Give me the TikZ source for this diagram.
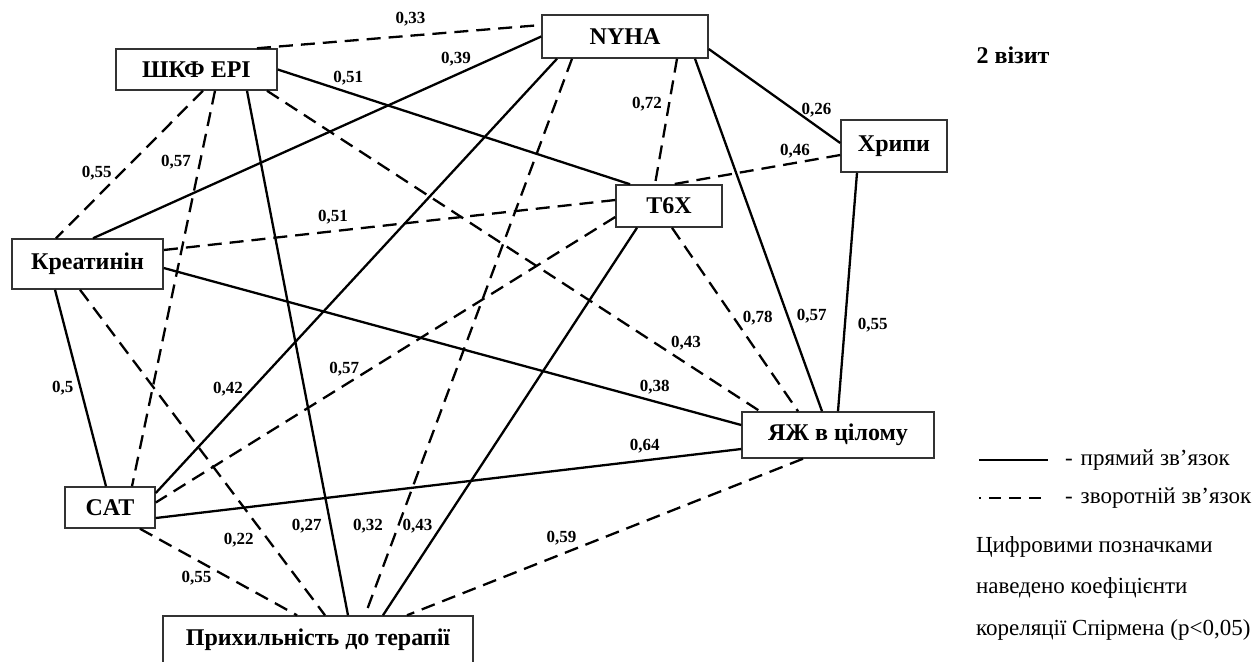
\documentclass[tikz,border=0pt]{standalone}
\usepackage{fontspec}
\setmainfont{Liberation Serif}
\usetikzlibrary{calc}
\tikzstyle{factor}=[draw=black!80,line width=0.75pt,inner sep=0pt,font=\bfseries\fontsize{12}{14}\selectfont]
\tikzstyle{pos link}=[line width=1.15pt]
\tikzstyle{neg link}=[line width=1.15pt,dash pattern=on 7pt off 4pt]
\tikzstyle{coef}=[inner sep=1pt,font=\bfseries\fontsize{8.5}{9}\selectfont]
\tikzstyle{legend}=[font=\fontsize{11.5}{14}\selectfont]

\begin{document}
\begin{tikzpicture}[x=0.5pt,y=-0.5pt]
	\useasboundingbox (0,0) rectangle (1259,661);
	\clip (0,0) rectangle (1259,661);

	\node(shkf)[factor,minimum width=80.5pt,minimum height=20.5pt] at (196.5,69.5){ШКФ EPI};
	\node(nyha)[factor,minimum width=83pt,minimum height=21.5pt] at (625,36.5){NYHA};
	\node(khrypy)[factor,minimum width=53pt,minimum height=26pt] at (894,146){Хрипи};
	\node(t6x)[factor,minimum width=53pt,minimum height=21pt] at (669,206){Т6Х};
	\node(kreat)[factor,minimum width=75.5pt,minimum height=25pt] at (87.5,264){Креатинін};
	\node(yazh)[factor,minimum width=96pt,minimum height=23pt] at (838,435){ЯЖ в цілому};
	\node(sat)[factor,minimum width=45pt,minimum height=20.5pt] at (110,507.5){CAT};
	\node(pryh)[factor,minimum width=155pt,minimum height=24pt] at (318,640){Прихильність до терапії};
	\node(title)[font=\bfseries\fontsize{12}{14}\selectfont] at (1013,55){2 візит};

	% direct links
	\path[pos link] (nyha.west) edge node[coef,pos=.19,above=3pt]{0,39} ($(kreat.north)+(5.5,0)$)
	                (shkf.east) edge node[coef,pos=.2,above=2pt]{0,51} ($(t6x.north)+(-39,0)$)
	                ($(shkf.south)+(50.5,0)$) edge node[coef,pos=.83,left=3pt]{0,27} ($(pryh.north)+(30,0)$)
	                ($(nyha.south)+(-68,0)$) edge node[coef,pos=.76,left=3pt]{0,42} ($(sat.east)+(0,-14.5)$)
	                ($(nyha.south)+(70,0)$) edge node[coef,pos=.73,right=3pt]{0,57} ($(yazh.north)+(-16,0)$)
	                ($(nyha.east)+(0,12.5)$) edge node[coef,pos=.82,above=3pt]{0,26} ($(khrypy.west)+(0,-3)$)
	                ($(khrypy.south)+(-37,0)$) edge node[coef,pos=.64,right=5pt]{0,55} (yazh.north)
	                ($(t6x.south)+(-32,0)$) edge node[coef,pos=.77,left=3pt]{0,43} ($(pryh.north)+(65,0)$)
	                ($(kreat.east)+(0,4)$) edge node[coef,pos=.85,above=2pt]{0,38} ($(yazh.west)+(0,-10)$)
	                ($(kreat.south)+(-32.5,0)$) edge node[coef,pos=.5,left=2pt]{0,5} ($(sat.north)+(-4,0)$)
	                ($(sat.east)+(0,10.5)$) edge node[coef,pos=.835,above=2pt]{0,64} ($(yazh.west)+(0,14)$);

	% inverse links
	\path[neg link] ($(shkf.north)+(60.5,0)$) edge node[coef,pos=.54,above=3pt]{0,33} ($(nyha.west)+(0,-11.5)$)
	                ($(shkf.south)+(6.5,0)$) edge node[coef,pos=.56,left=3pt]{0,55} ($(kreat.north)+(-31.5,0)$)
	                ($(shkf.south)+(18.5,0)$) edge node[coef,pos=.18,left=3pt]{0,57} ($(sat.north)+(22,0)$)
	                ($(shkf.south)+(70.5,0)$) edge node[coef,pos=.85,above=5pt]{0,43} ($(yazh.north)+(-78,0)$)
	                ($(nyha.south)+(-53,0)$) edge node[coef,pos=.84,left=6pt]{0,32} ($(pryh.north)+(47,0)$)
	                ($(nyha.south)+(52,0)$) edge node[coef,pos=.36,left=2pt]{0,72} ($(t6x.north)+(-14,0)$)
	                ($(khrypy.west)+(0,9)$) edge node[coef,pos=.27,above=1pt]{0,46} ($(t6x.north)+(4,0)$)
	                ($(t6x.west)+(0,-6)$) edge node[coef,pos=.625,above=2pt]{0,51} ($(kreat.east)+(0,-14)$)
	                ($(t6x.west)+(0,11)$) edge node[coef,pos=.59,above=3pt]{0,57} ($(sat.east)+(0,-5)$)
	                ($(t6x.south)+(3,0)$) edge node[coef,pos=.49,right=3pt]{0,78} ($(yazh.north)+(-40,0)$)
	                ($(kreat.south)+(-7.5,0)$) edge node[coef,pos=.77,left=6pt]{0,22} ($(pryh.north)+(7,0)$)
	                ($(sat.south)+(30,0)$) edge node[coef,pos=.36,below=4pt]{0,55} ($(pryh.north)+(-21,0)$)
	                ($(yazh.south)+(-35,0)$) edge node[coef,pos=.61,above=3pt]{0,59} ($(pryh.north)+(89,0)$);

	% legend
	\coordinate(s1) at (979,460);
	\coordinate(s2) at (1048,460);
	\coordinate(d1) at (979,498);
	\coordinate(d2) at (1048,498);
	\draw[pos link] (s1) -- (s2);
	\draw[neg link,dash pattern=on 6pt off 4pt,dash phase=5pt] (d1) -- (d2);
	\node(leg1)[legend,anchor=west] at (1058,460){-\hspace{4pt}прямий зв’язок};
	\node(leg2)[legend,anchor=west] at (1058,498){-\hspace{4pt}зворотній зв’язок};
	\node(leg3)[legend,anchor=west] at (969,547){Цифровими позначками};
	\node(leg4)[legend,anchor=west] at (969,588){наведено коефіцієнти};
	\node(leg5)[legend,anchor=west] at (969,630){кореляції Спірмена (p<0,05)};
\end{tikzpicture}
\end{document}
